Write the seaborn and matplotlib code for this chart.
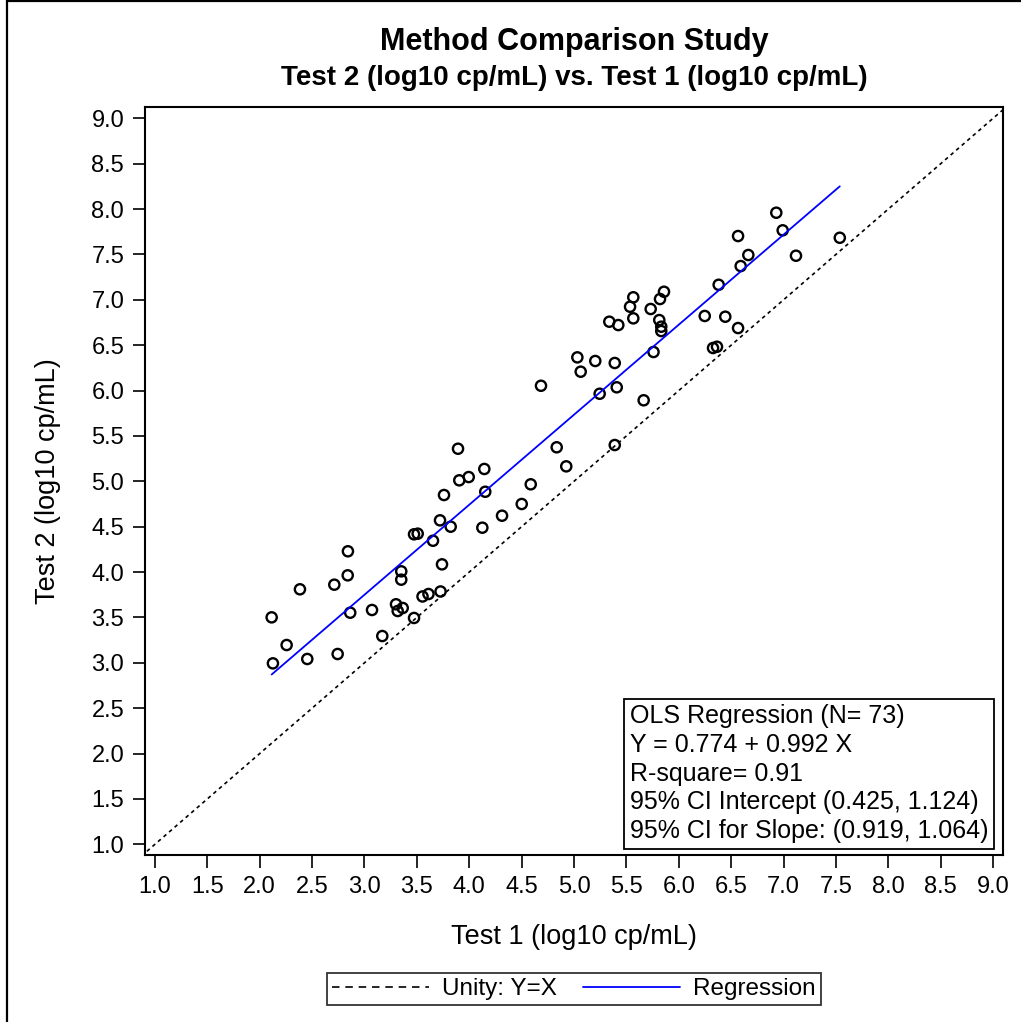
import numpy as np
import pandas as pd
import seaborn as sns
import matplotlib.pyplot as plt
from matplotlib.lines import Line2D

# test 1 / test 2 values
test1 = [2.114, 2.126, 2.257, 2.384, 2.454, 2.712, 2.744, 2.842, 2.840, 2.864,
         3.072, 3.170, 3.301, 3.317, 3.365, 3.351, 3.351, 3.473, 3.554, 3.611,
         3.726, 3.740, 3.473, 3.508, 3.654, 3.721, 3.823, 3.759, 3.893, 3.905,
         3.995, 4.144, 4.153, 4.125, 4.313, 4.501, 4.587, 4.835, 4.926, 4.685,
         5.032, 5.064, 5.203, 5.389, 5.245, 5.408, 5.665, 5.389, 5.759, 5.833,
         5.337, 5.423, 5.535, 5.566, 5.566, 5.732, 5.821, 5.859, 5.814, 5.833,
         6.248, 6.444, 6.566, 6.327, 6.365, 6.381, 6.591, 6.664, 6.566, 6.931,
         6.992, 7.119, 7.537]
test2 = [3.501, 2.994, 3.196, 3.810, 3.042, 3.861, 3.097, 4.229, 3.964, 3.552,
         3.582, 3.295, 3.645, 3.571, 3.604, 4.008, 3.916, 3.494, 3.731, 3.758,
         3.786, 4.085, 4.416, 4.423, 4.345, 4.570, 4.500, 4.849, 5.359, 5.011,
         5.047, 5.136, 4.885, 4.489, 4.621, 4.750, 4.967, 5.375, 5.165, 6.053,
         6.366, 6.208, 6.326, 6.304, 5.965, 6.036, 5.893, 5.400, 6.425, 6.656,
         6.759, 6.722, 6.924, 7.028, 6.796, 6.899, 7.009, 7.089, 6.777, 6.704,
         6.822, 6.814, 6.689, 6.469, 6.483, 7.166, 7.372, 7.494, 7.703, 7.960,
         7.766, 7.486, 7.684]

intercept = 0.774
slope = 0.992
stats_lines = ["OLS Regression (N= 73)",
               "Y = 0.774 + 0.992 X",
               "R-square= 0.91",
               "95% CI Intercept (0.425, 1.124)",
               "95% CI for Slope: (0.919, 1.064)"]
ticks = np.arange(1.0, 9.01, 0.5)

df = pd.DataFrame({"test1": test1, "test2": test2})

sns.set_style("white")
plt.rcParams['font.family'] = ['Liberation Sans', 'DejaVu Sans']
plt.rcParams['text.color'] = 'black'
plt.rcParams['axes.labelcolor'] = 'black'
plt.rcParams['xtick.color'] = 'black'
plt.rcParams['ytick.color'] = 'black'

fig = plt.figure(figsize=(10.21, 10.22), dpi=100)
ax = fig.add_axes([145 / 1021, 1 - 855 / 1022, 858 / 1021, 748 / 1022])

# unity line
unity = np.array([0.5, 9.5])
ax.plot(unity, unity, color='black', lw=1.2, ls=(0, (2.2, 2.2)))

# regression line over the data range
xr = np.array([df.test1.min(), df.test1.max()])
ax.plot(xr, intercept + slope * xr, color='#0000FF', lw=1.3)

sns.scatterplot(data=df, x='test1', y='test2', ax=ax, marker='o', s=54,
                facecolor='none', edgecolor='black', linewidth=1.7, legend=False)

ax.set_xlim(0.905, 9.095)
ax.set_ylim(0.882, 9.125)
ax.set_xticks(ticks)
ax.set_yticks(ticks)
ax.set_xticklabels([f"{t:.1f}" for t in ticks], fontsize=17)
ax.set_yticklabels([f"{t:.1f}" for t in ticks], fontsize=17)
ax.tick_params(bottom=True, left=True, direction='out', length=9, width=1.2,
               color='black', labelcolor='black')
ax.tick_params(axis='x', pad=6)
ax.tick_params(axis='y', pad=6)
for s in ax.spines.values():
    s.set_color('black')
    s.set_linewidth(1.5)

ax.set_xlabel("Test 1 (log10 cp/mL)", fontsize=19.5, labelpad=19)
ax.set_ylabel("Test 2 (log10 cp/mL)", fontsize=19.5, labelpad=22)

fig.text(574 / 1021, 1 - 42 / 1022, "Method Comparison Study", ha='center', va='center',
         fontsize=22, fontweight='bold')
fig.text(574 / 1021, 1 - 78 / 1022, "Test 2 (log10 cp/mL) vs. Test 1 (log10 cp/mL)",
         ha='center', va='center', fontsize=20, fontweight='bold')

ax.text(0.983, 0.016, "\n".join(stats_lines), transform=ax.transAxes, ha='right', va='bottom',
        multialignment='left', fontsize=18, linespacing=1.245,
        bbox=dict(boxstyle='square,pad=0.22', fc='white', ec='black', lw=1.3))

handles = [Line2D([], [], color='black', lw=1.2, ls=(0, (4.5, 3.5))),
           Line2D([], [], color='#0000FF', lw=1.3)]
leg = ax.legend(handles, ['Unity: Y=X', 'Regression'], loc='upper center',
                bbox_to_anchor=(0.5, -0.142), ncol=2, fontsize=17.5,
                frameon=True, fancybox=False, edgecolor='black', handlelength=4.0,
                columnspacing=1.05, borderpad=0.2, handletextpad=0.55)
leg.get_frame().set_linewidth(1.3)

# outer frame: left and top edges only
fig.add_artist(Line2D([7 / 1021, 7 / 1021], [0, 1], color='black', lw=1.6,
                      transform=fig.transFigure))
fig.add_artist(Line2D([7 / 1021, 1], [1 - 1.5 / 1022, 1 - 1.5 / 1022], color='black', lw=1.6,
                      transform=fig.transFigure))

fig.savefig("out.png", dpi=100)
